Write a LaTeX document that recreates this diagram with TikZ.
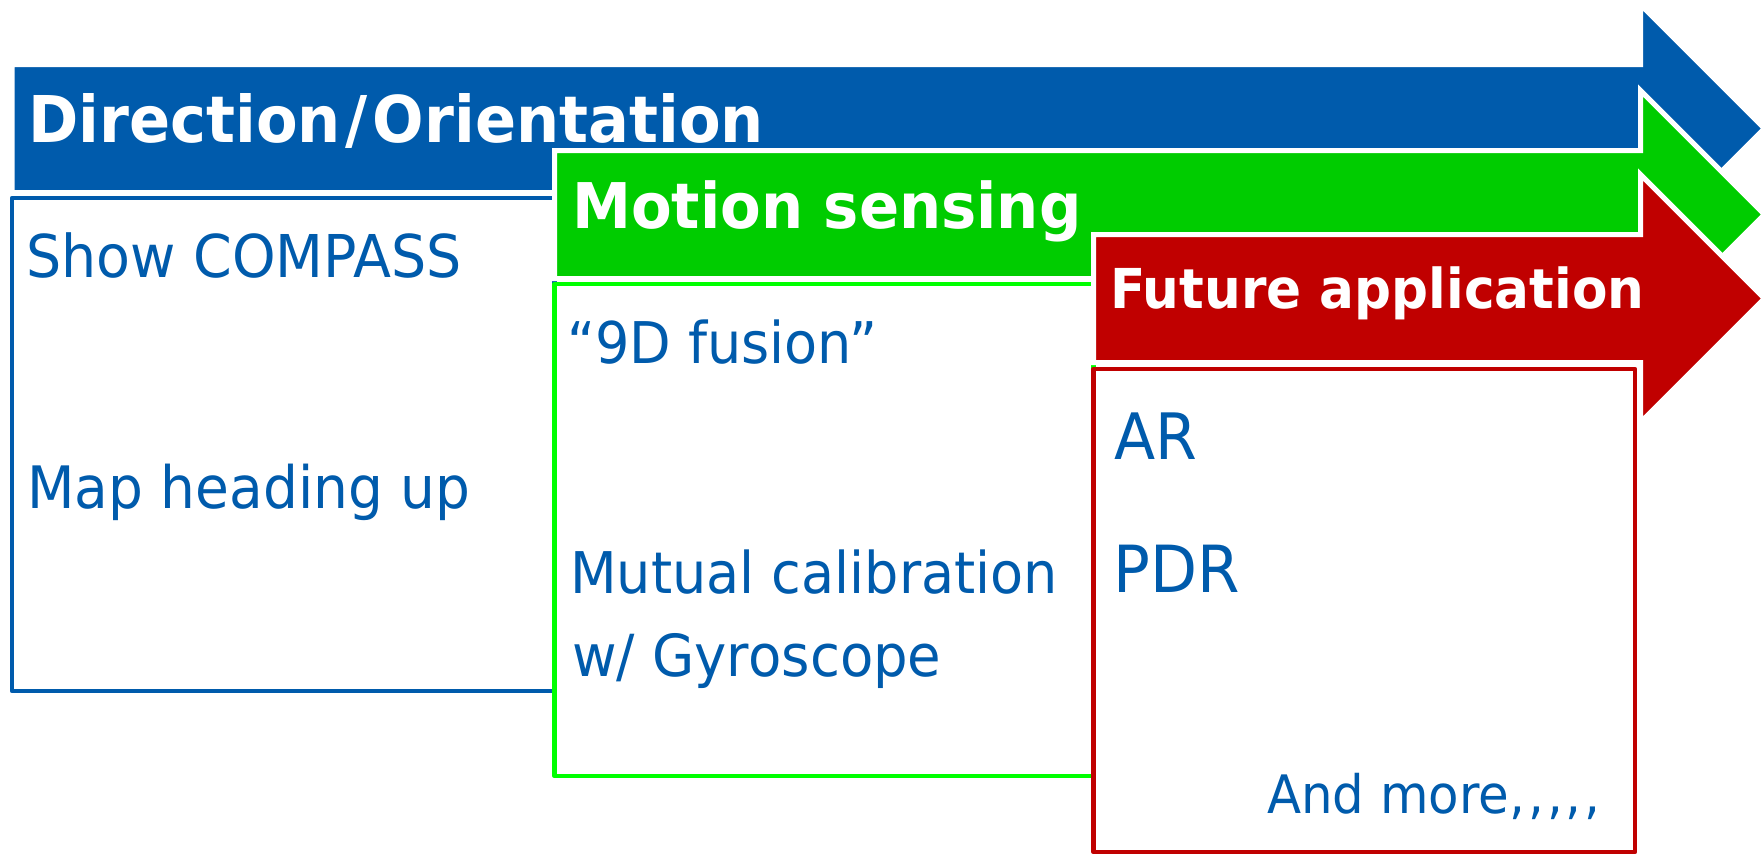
\documentclass[tikz,border=0pt]{standalone}
\usepackage{fontspec}
\setmainfont[FakeStretch=0.94]{DejaVu Sans}

\definecolor{bandblue}{HTML}{005BAC}
\definecolor{bandgreen}{HTML}{00CC00}
\definecolor{boxgreen}{HTML}{00FF00}
\definecolor{bandred}{HTML}{C00000}

\tikzset{
  band/.style={fill=#1, draw=white, line width=5pt, line join=miter},
  panel/.style={draw=#1, fill=white, line width=4.5pt, line join=round},
  title/.style={anchor=base west, inner sep=0pt, text=white,
    font=\bfseries\fontsize{#1}{#1}\selectfont},
  item/.style={anchor=base west, inner sep=0pt, text=bandblue,
    font=\fontsize{#1}{#1}\selectfont},
}

\begin{document}
\begin{tikzpicture}[x=1pt, y=-1pt]
  \useasboundingbox (0,0) rectangle (1762,854);
  \clip (0,0) rectangle (1762,854);

  % stage 1: direction / orientation
  \draw[band=bandblue] (12,64.5) -- (1640.5,64.5) -- (1640.5,4.5)
    -- (1764.5,128.5) -- (1640.5,252.5) -- (1640.5,192.5) -- (12,192.5) -- cycle;
  \draw[panel=bandblue] (12,198) rectangle (554.5,691);
  \node[title=64.5] (t1) at (28,142) {Direction\kern5pt/\kern5pt Orientation};
  \node[item=59] (a1) at (26,277) {Show COMPASS};
  \node[item=58.5] (a2) at (27,508) {Map heading up};

  % stage 2: motion sensing
  \draw[band=bandgreen] (554.5,150.5) -- (1640.5,150.5) -- (1640.5,90.5)
    -- (1764.5,214.5) -- (1640.5,338.5) -- (1640.5,278.5) -- (554.5,278.5) -- cycle;
  \draw[panel=boxgreen] (554.5,284) rectangle (1093.5,776);
  \node[title=63] (t2) at (572,228) {Motion sensing};
  \node[item=57.5] (b1) at (567,363) {“9D fusion”};
  \node[item=57.5] (b2) at (570,593) {Mutual calibration};
  \node[item=58] (b3) at (572,676) {w/ Gyroscope};

  % stage 3: future application
  \draw[band=bandred] (1093.5,234.5) -- (1640.5,234.5) -- (1640.5,174.5)
    -- (1764.5,298.5) -- (1640.5,422.5) -- (1640.5,362.5) -- (1093.5,362.5) -- cycle;
  \draw[panel=bandred] (1093.5,369) rectangle (1635,852);
  \node[title=55] (t3) at (1110,308) {Future application};
  \node[item=64] (c1) at (1114,459) {AR};
  \node[item=65] (c2) at (1113,592) {PDR};
  \node[item=53] (c3) at (1267,813)
    {And more,\kern3pt,\kern3pt,\kern3pt,\kern3pt,};
\end{tikzpicture}
\end{document}
